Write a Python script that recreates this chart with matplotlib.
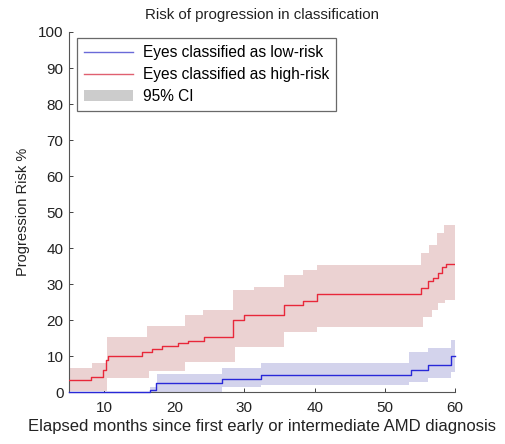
import matplotlib

matplotlib.use("Agg")
import matplotlib.pyplot as plt
from matplotlib.patches import Patch
from matplotlib.lines import Line2D

plt.rcParams["font.family"] = ["Liberation Sans", "DejaVu Sans"]

# step curves: change points (months) and risk (%) from each point on
high_months = [5, 8.2, 9.9, 10.3, 10.6, 15.4, 16.8, 18.2, 20.6, 22.0, 24.2, 28.4, 29.9,
               35.6, 38.4, 40.4, 55.2, 56.1, 56.8, 57.6, 58.2, 58.7, 60]
high_risk = [3.5, 4.4, 6.2, 9.0, 10.2, 11.2, 12.0, 13.0, 13.8, 14.4, 15.5, 20.1, 21.5,
             24.3, 25.5, 27.3, 28.9, 30.8, 31.7, 33.1, 34.8, 35.7, 35.7]

high_hi_months = [5, 8.3, 10.4, 16.1, 21.6, 24.1, 28.4, 31.3, 35.6, 38.4, 40.4, 55.1,
                  56.3, 57.5, 58.4, 60]
high_hi = [6.8, 8.2, 15.5, 18.5, 21.5, 22.9, 28.5, 29.4, 32.6, 34.0, 35.4, 38.7,
           41.0, 44.3, 46.5, 46.5]
high_lo_months = [5, 10.4, 16.4, 21.5, 28.7, 35.6, 40.4, 55.5, 56.7, 57.6, 58.6, 60]
high_lo = [0.3, 4.0, 6.0, 8.5, 12.7, 16.9, 18.3, 21.0, 22.9, 24.8, 25.7, 25.7]

low_months = [5, 16.6, 17.4, 26.8, 32.3, 53.7, 56.1, 59.4, 60]
low_risk = [0, 0.8, 2.6, 3.7, 4.8, 6.2, 7.6, 10.0, 10.0]

low_hi_months = [5, 16.6, 17.5, 26.8, 32.3, 53.5, 56.1, 59.4, 60]
low_hi = [0, 1.5, 5.0, 6.7, 8.1, 11.3, 12.3, 14.6, 14.6]
low_lo_months = [5, 26.8, 32.3, 53.5, 56.1, 59.4, 60]
low_lo = [0, 1.5, 2.1, 2.8, 4.0, 5.8, 5.8]

x_ticks = [10, 20, 30, 40, 50, 60]
y_ticks = list(range(0, 101, 10))


def step_band(ax, hi_x, hi_y, lo_x, lo_y, color):
    xs = sorted(set(hi_x) | set(lo_x))

    def value_at(px, py, x):
        v = py[0]
        for a, b in zip(px, py):
            if a <= x:
                v = b
        return v

    hi = [value_at(hi_x, hi_y, x) for x in xs]
    lo = [value_at(lo_x, lo_y, x) for x in xs]
    ax.fill_between(xs, lo, hi, step="post", facecolor=color, edgecolor="none",
                    zorder=2, clip_on=False)


fig = plt.figure(figsize=(5.05, 4.44), dpi=100)
ax = fig.add_axes([0.1366, 0.116, 0.7644, 0.812])

step_band(ax, high_hi_months, high_hi, high_lo_months, high_lo, "#ebd2d2")
step_band(ax, low_hi_months, low_hi, low_lo_months, low_lo, "#d3d3ec")
ax.step(high_months, high_risk, where="post", color="#e8283a", lw=1.0, zorder=3)
ax.step(low_months, low_risk, where="post", color="#2828d8", lw=1.0, zorder=3,
        clip_on=False)

ax.set_xlim(5, 60)
ax.set_ylim(0, 100)
ax.set_xticks(x_ticks)
ax.set_yticks(y_ticks)
ax.tick_params(direction="in", length=3, width=0.6, labelsize=11, colors="#222222")
ax.tick_params(axis="x", pad=6)
ax.tick_params(axis="y", pad=4)
for side in ("top", "right"):
    ax.spines[side].set_visible(False)
for side in ("left", "bottom"):
    ax.spines[side].set_color("#555555")
    ax.spines[side].set_linewidth(0.8)

ax.set_title("Risk of progression in classification", fontsize=10.8, pad=9,
             color="#222222")
ax.set_xlabel("Elapsed months since first early or intermediate AMD diagnosis",
              fontsize=12, color="#222222", labelpad=3)
ax.set_ylabel("Progression Risk %", fontsize=10.5, color="#222222", labelpad=6)

handles = [
    Line2D([], [], color="#6a6ad8", lw=1.0),
    Line2D([], [], color="#e06070", lw=1.0),
    Patch(facecolor="#cccccc", edgecolor="none"),
]
labels = ["Eyes classified as low-risk", "Eyes classified as high-risk", "95% CI"]
leg = ax.legend(handles, labels, loc="upper left", bbox_to_anchor=(0.02, 0.983),
                fontsize=11.2, frameon=True, fancybox=False, handlelength=3.2,
                handletextpad=0.6, borderpad=0.45, labelspacing=0.45,
                borderaxespad=0)
leg.get_frame().set_edgecolor("#444444")
leg.get_frame().set_linewidth(0.9)

fig.savefig("out.png", dpi=100)
